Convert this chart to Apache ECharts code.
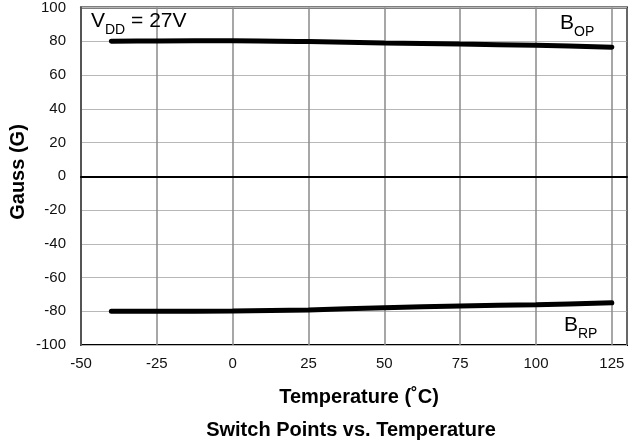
<!DOCTYPE html>
<html>
<head>
<meta charset="utf-8">
<script src="https://cdn.jsdelivr.net/npm/echarts@6/dist/echarts.min.js"></script>
<style>
html,body{margin:0;padding:0;background:#fff;}
#c{width:637px;height:446px;}
</style>
</head>
<body>
<div id="c"></div>
<script>
var temps = [-40, -25, 0, 25, 50, 75, 100, 125];
var bop = [80, 80.2, 80.3, 79.8, 79.0, 78.3, 77.6, 76.5];
var brp = [-80, -80, -79.8, -79.2, -77.9, -76.9, -76.1, -75];
var xTicks = [-50, -25, 0, 25, 50, 75, 100, 125];
var yTicks = [-100, -80, -60, -40, -20, 0, 20, 40, 60, 80, 100];

function pairs(xs, ys){ return xs.map(function(x,i){ return [x, ys[i]]; }); }

var font = 'Liberation Sans, Arial, sans-serif';
var richLbl = {
  m: {fontFamily: font, fontSize: 21, fill: '#000', lineHeight: 24, verticalAlign: 'bottom'},
  s: {fontFamily: font, fontSize: 14, fill: '#000', lineHeight: 14, verticalAlign: 'bottom', padding: [0,0,-5,0]}
};
var chart = echarts.init(document.getElementById('c'), null, {renderer:'canvas'});
chart.setOption({
  animation: false,
  backgroundColor: '#fff',
  title: {
    text: 'Switch Points vs. Temperature',
    left: 346, top: 415, textAlign: 'center',
    textStyle: {fontFamily: font, fontSize: 20, fontWeight: 'bold', color: '#000'}
  },
  grid: {left: 81, right: 10, top: 7, bottom: 101, show: true, borderColor: '#000', borderWidth: 2, backgroundColor: '#fff'},
  xAxis: {
    type: 'value', min: -50, max: 130, interval: 25,
    name: 'Temperature (˚C)', nameLocation: 'middle', nameGap: 42,
    nameTextStyle: {fontFamily: font, fontSize: 20, fontWeight: 'bold', color: '#000', padding: [0,0,0,10]},
    axisLine: {show: true, lineStyle: {color: '#000', width: 2}},
    axisTick: {show: false},
    axisLabel: {fontFamily: font, fontSize: 15, color: '#111', margin: 11,
      formatter: function(v){ return xTicks.indexOf(v) >= 0 ? String(v) : ''; }},
    splitLine: {show: true, lineStyle: {color: '#8a8a8a', width: 1.5}}
  },
  yAxis: {
    type: 'value', min: -100, max: 100, interval: 20,
    axisLine: {show: true, onZero: false, lineStyle: {color: '#555', width: 2}},
    axisTick: {show: false},
    axisLabel: {fontFamily: font, fontSize: 15, color: '#111', margin: 15,
      formatter: function(v){ return yTicks.indexOf(v) >= 0 ? String(v) : ''; }},
    splitLine: {show: true, lineStyle: {color: '#b8b8b8', width: 1}}
  },
  series: [
    {
      type: 'line', data: pairs(temps, bop), smooth: 0.3, symbol: 'none',
      lineStyle: {color: '#000', width: 5, cap: 'round'},
      markLine: {silent: true, symbol: 'none', label: {show: false},
        lineStyle: {color: '#000', width: 1, type: 'solid'}, data: [{yAxis: 0}]},
      z: 5
    },
    {
      type: 'line', data: pairs(temps, brp), smooth: 0.3, symbol: 'none',
      lineStyle: {color: '#000', width: 5, cap: 'round'}, z: 5
    }
  ],
  graphic: [
    {type: 'text', x: 18.5, y: 172, rotation: Math.PI/2, z: 10, style: {
      text: 'Gauss (G)', fontFamily: font, fontSize: 20, fontWeight: 'bold', fill: '#000',
      align: 'center', verticalAlign: 'middle'
    }},
    {type: 'text', left: 91, top: 11, z: 10, style: {text: '{m|V}{s|DD}{m| = 27V}', rich: richLbl}},
    {type: 'text', left: 560, top: 13, z: 10, style: {text: '{m|B}{s|OP}', rich: richLbl}},
    {type: 'text', left: 564, top: 315, z: 10, style: {text: '{m|B}{s|RP}', rich: richLbl}}
  ]
});
</script>
</body>
</html>
